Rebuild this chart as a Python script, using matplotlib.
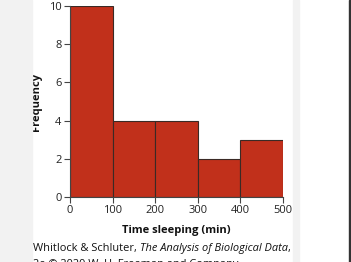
import matplotlib
matplotlib.use("Agg")
import matplotlib.pyplot as plt
from matplotlib.patches import Rectangle

bin_edges = [0, 100, 200, 300, 400, 500]
counts = [10, 4, 4, 2, 3]
x_ticks = [0, 100, 200, 300, 400, 500]
y_ticks = [0, 2, 4, 6, 8, 10]

plt.rcParams['font.family'] = ['Open Sans', 'DejaVu Sans']

W, H = 351, 262
fig = plt.figure(figsize=(W/100, H/100), dpi=100)
fig.patch.set_facecolor('white')

# background panels
fig.patches.append(Rectangle((0, 0), 32/W, 1, transform=fig.transFigure, color='#f2f2f2', zorder=0))
fig.patches.append(Rectangle((293/W, 0), 6/W, 1, transform=fig.transFigure, color='#f2f2f2', zorder=0))
fig.patches.append(Rectangle((349/W, 0), 2/W, 1, transform=fig.transFigure, color='#333333', zorder=0))

x0, x1 = 70, 283
y0, y1 = 197, 6
ax = fig.add_axes([x0/W, 1 - y0/H, (x1-x0)/W, (y0-y1)/H])
ax.set_facecolor('none')

widths = [bin_edges[i+1]-bin_edges[i] for i in range(len(counts))]
ax.bar(bin_edges[:-1], counts, width=widths, align='edge', color='#c1301b',
       edgecolor='#3a2a25', linewidth=0.8)

ax.set_xlim(0, 500)
ax.set_ylim(0, 10)
ax.set_xticks(x_ticks)
ax.set_yticks(y_ticks)
for s in ['top', 'right']:
    ax.spines[s].set_visible(False)
for s in ['left', 'bottom']:
    ax.spines[s].set_color('#444444')
    ax.spines[s].set_linewidth(0.8)
ax.tick_params(axis='both', colors='#444444', labelcolor='#222222', labelsize=8,
               length=4, width=0.8, pad=2)
ax.set_xlabel('Time sleeping (min)', fontsize=8, fontweight='bold', labelpad=6, color='#111111')
ax.set_ylabel('Frequency', fontsize=8, fontweight='bold', labelpad=5, color='#111111')

cap_y = 1 - 248/H
fs = 7.9
fig.text(33/W, cap_y, 'Whitlock & Schluter, ', fontsize=fs, va='center', ha='left', color='#111111')
fig.canvas.draw()
r = fig.canvas.get_renderer()
bb = fig.texts[0].get_window_extent(renderer=r)
fig.text(bb.x1/W, cap_y, 'The Analysis of Biological Data', fontsize=fs, style='italic', va='center', ha='left', color='#111111')
bb2 = fig.texts[-1].get_window_extent(renderer=r)
fig.text(bb2.x1/W, cap_y, ',', fontsize=fs, va='center', ha='left', color='#111111')
fig.text(33/W, 1 - 265/H, '2e \u00a9 2020 W. H. Freeman and Company', fontsize=fs, va='center', ha='left', color='#111111')

fig.savefig('out.png', dpi=100)
